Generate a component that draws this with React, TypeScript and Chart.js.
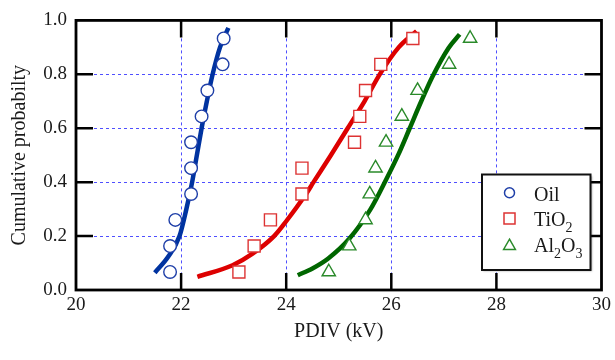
import React, { useEffect, useRef } from "react";
import { Chart, registerables } from "chart.js";
Chart.register(...registerables);

// Cumulative probability (median ranks) for the 10 samples of each series
const probabilities = [0.067, 0.163, 0.26, 0.356, 0.452, 0.548, 0.644, 0.74, 0.837, 0.933];
const oilPDIV = [21.79, 21.79, 21.89, 22.19, 22.19, 22.19, 22.39, 22.5, 22.79, 22.81];
const tio2PDIV = [23.1, 23.39, 23.7, 24.3, 24.3, 25.3, 25.4, 25.51, 25.8, 26.41];
const al2o3PDIV = [24.81, 25.2, 25.51, 25.59, 25.7, 25.9, 26.2, 26.5, 27.1, 27.5];

// Fitted curves
const oilFitX = [21.5, 21.76, 21.97, 22.1, 22.21, 22.3, 22.39, 22.49, 22.6, 22.74, 22.9];
const oilFitY = [0.064, 0.125, 0.2, 0.3, 0.4, 0.5, 0.6, 0.7, 0.8, 0.9, 0.972];
const tio2FitX = [22.31, 22.98, 23.36, 23.77, 24.0, 24.37, 24.52, 24.85, 25.17, 25.49, 25.78, 26.14, 26.48];
const tio2FitY = [0.049, 0.092, 0.135, 0.2, 0.255, 0.354, 0.4, 0.5, 0.6, 0.7, 0.8, 0.9, 0.96];
const al2o3FitX = [24.22, 24.5, 24.8, 25.2, 25.6, 25.9, 26.14, 26.35, 26.57, 26.78, 27.09, 27.3];
const al2o3FitY = [0.055, 0.08, 0.117, 0.19, 0.298, 0.409, 0.505, 0.6, 0.7, 0.79, 0.898, 0.948];

const xTicks = [20, 22, 24, 26, 28, 30];
const yTicks = [0, 0.2, 0.4, 0.6, 0.8, 1.0];

const legendItems = [
  { parts: [["Oil", false]], style: "circle", color: "#1f3fa8" },
  { parts: [["TiO", false], ["2", true]], style: "rect", color: "#dd3333" },
  { parts: [["Al", false], ["2", true], ["O", false], ["3", true]], style: "triangle", color: "#2a8a2a" },
];

const FONT = "'Liberation Serif', 'Times New Roman', serif";

const pts = (xs: number[], ys: number[]) => xs.map((x, i) => ({ x, y: ys[i] }));

function drawMarker(ctx: CanvasRenderingContext2D, style: string, x: number, y: number, color: string) {
  ctx.save();
  ctx.strokeStyle = color;
  ctx.fillStyle = "#fff";
  ctx.lineWidth = 1.5;
  ctx.beginPath();
  if (style === "circle") {
    ctx.arc(x, y, 5, 0, Math.PI * 2);
  } else if (style === "rect") {
    ctx.rect(x - 5.5, y - 5.5, 11, 11);
  } else {
    const r = 6.8;
    ctx.moveTo(x, y - r);
    ctx.lineTo(x + r * 0.866, y + r * 0.5);
    ctx.lineTo(x - r * 0.866, y + r * 0.5);
    ctx.closePath();
  }
  ctx.fill();
  ctx.stroke();
  ctx.restore();
}

const framePlugin = {
  id: "frame",
  afterDraw(chart: any) {
    const ctx: CanvasRenderingContext2D = chart.ctx;
    const { left, right, top, bottom } = chart.chartArea;
    const xs = chart.scales.x;
    const ys = chart.scales.y;
    ctx.save();
    ctx.strokeStyle = "#000";
    ctx.lineWidth = 2.5;
    const tl = 17;
    ctx.beginPath();
    xTicks.slice(1, -1).forEach((v) => {
      const px = xs.getPixelForValue(v);
      ctx.moveTo(px, bottom);
      ctx.lineTo(px, bottom - tl);
      ctx.moveTo(px, top);
      ctx.lineTo(px, top + tl);
    });
    yTicks.slice(1, -1).forEach((v) => {
      const py = ys.getPixelForValue(v);
      ctx.moveTo(left, py);
      ctx.lineTo(left + tl, py);
      ctx.moveTo(right, py);
      ctx.lineTo(right - tl, py);
    });
    ctx.stroke();
    ctx.lineWidth = 2.8;
    ctx.strokeRect(left, top, right - left, bottom - top);

    // legend box
    const bx = 482, by = 174.5, bw = 108.5, bh = 95.5;
    ctx.save();
    ctx.shadowColor = "rgba(0,0,0,0.35)";
    ctx.shadowOffsetX = 1;
    ctx.shadowOffsetY = 1;
    ctx.shadowBlur = 2;
    ctx.fillStyle = "#fff";
    ctx.fillRect(bx, by, bw, bh);
    ctx.restore();
    ctx.lineWidth = 2;
    ctx.strokeStyle = "#111";
    ctx.strokeRect(bx, by, bw, bh);

    const markerY = [192.7, 218.5, 246];
    const baseY = [200.5, 225.5, 252];
    legendItems.forEach((item, i) => {
      drawMarker(ctx, item.style, 509.5, markerY[i], item.color);
      let tx = 534;
      ctx.fillStyle = "#1a1a1a";
      ctx.textBaseline = "alphabetic";
      ctx.textAlign = "left";
      (item.parts as any[]).forEach(([t, sub]) => {
        ctx.font = sub ? `14px ${FONT}` : `20px ${FONT}`;
        ctx.fillText(t, tx, baseY[i] + (sub ? 6 : 0));
        tx += ctx.measureText(t).width;
      });
    });
    ctx.restore();
  },
};

export default function App() {
  const ref = useRef<HTMLCanvasElement | null>(null);
  useEffect(() => {
    if (!ref.current) return;
    const gridColor = "#4f4fff";
    const chart = new Chart(ref.current, {
      type: "scatter",
      data: {
        datasets: [
          {
            label: "Oil",
            data: pts(oilPDIV, probabilities),
            pointStyle: "circle",
            pointRadius: 6.3,
            pointBorderWidth: 1.4,
            pointBackgroundColor: "#fff",
            pointBorderColor: "#1f3fa8",
            showLine: false,
            order: 0,
          },
          {
            label: "TiO2",
            data: pts(tio2PDIV, probabilities),
            pointStyle: "rect",
            pointRadius: 8.5,
            pointBorderWidth: 1.4,
            pointBackgroundColor: "#fff",
            pointBorderColor: "#dd3333",
            showLine: false,
            order: 0,
          },
          {
            label: "Al2O3",
            data: pts(al2o3PDIV, probabilities),
            pointStyle: "triangle",
            pointRadius: 7.7,
            pointBorderWidth: 1.4,
            pointBackgroundColor: "#fff",
            pointBorderColor: "#2a8a2a",
            showLine: false,
            order: 0,
          },
          {
            label: "Oil fit",
            data: pts(oilFitX, oilFitY),
            showLine: true,
            borderColor: "#0033a0",
            borderWidth: 4.5,
            pointRadius: 0,
            cubicInterpolationMode: "monotone",
            order: 1,
          },
          {
            label: "TiO2 fit",
            data: pts(tio2FitX, tio2FitY),
            showLine: true,
            borderColor: "#dd0000",
            borderWidth: 4.5,
            pointRadius: 0,
            cubicInterpolationMode: "monotone",
            order: 1,
          },
          {
            label: "Al2O3 fit",
            data: pts(al2o3FitX, al2o3FitY),
            showLine: true,
            borderColor: "#006600",
            borderWidth: 4.5,
            pointRadius: 0,
            cubicInterpolationMode: "monotone",
            order: 1,
          },
        ],
      },
      options: {
        animation: false,
        responsive: false,
        layout: { padding: { left: 0, right: 10, top: 18, bottom: 0 } },
        plugins: { legend: { display: false }, tooltip: { enabled: false } },
        scales: {
          x: {
            type: "linear",
            min: 20,
            max: 30,
            afterFit: (s: any) => { s.height = 70; },
            afterBuildTicks: (s: any) => { s.ticks = xTicks.map((v) => ({ value: v })); },
            ticks: {
              font: { family: FONT, size: 19 },
              color: "#1a1a1a",
              padding: 4,
              maxRotation: 0,
              callback: (v: any) => String(v),
            },
            grid: { color: gridColor, lineWidth: 1, drawTicks: false },
            border: { display: false, dash: [3, 3] },
            title: {
              display: true,
              text: "PDIV (kV)",
              font: { family: FONT, size: 20 },
              color: "#1a1a1a",
              padding: { top: 0, bottom: 16 },
            },
          },
          y: {
            type: "linear",
            min: 0,
            max: 1,
            afterFit: (s: any) => { s.width = 76; },
            afterBuildTicks: (s: any) => { s.ticks = yTicks.map((v) => ({ value: v })); },
            ticks: {
              font: { family: FONT, size: 19 },
              color: "#1a1a1a",
              padding: 9,
              callback: (v: any) => Number(v).toFixed(1),
            },
            grid: { color: gridColor, lineWidth: 1, drawTicks: false },
            border: { display: false, dash: [3, 3] },
            title: {
              display: true,
              text: "Cumulative probabilty",
              font: { family: FONT, size: 20 },
              color: "#1a1a1a",
              padding: { top: 8, bottom: 0 },
            },
          },
        },
      },
      plugins: [framePlugin],
    } as any);
    return () => chart.destroy();
  }, []);
  return (
    <div style={{ position: "fixed", left: 0, top: 0, width: 615, height: 360, background: "#fff" }}>
      <canvas ref={ref} width={615} height={360} style={{ display: "block" }} />
    </div>
  );
}
